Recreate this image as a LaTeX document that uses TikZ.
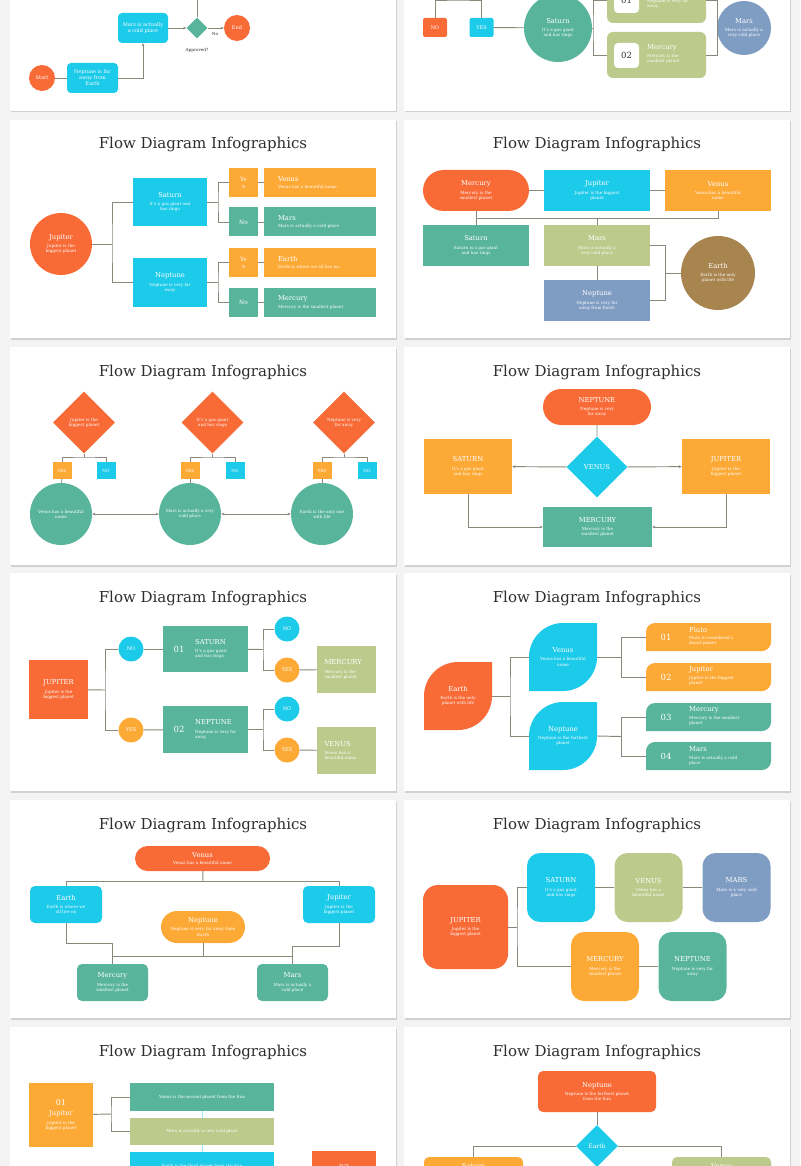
\documentclass[tikz,border=0pt]{standalone}
\usepackage{fontspec}
\setmainfont{DejaVu Serif}
\usetikzlibrary{arrows.meta,shapes.geometric,shapes.misc}
\definecolor{pOrange}{HTML}{F86B37}
\definecolor{pCyan}{HTML}{1CCAE9}
\definecolor{pTeal}{HTML}{58B59C}
\definecolor{pYellow}{HTML}{FDA936}
\definecolor{pOlive}{HTML}{BCCA8B}
\definecolor{pBlue}{HTML}{7F9DC3}
\definecolor{pBrown}{HTML}{A8844F}
\definecolor{pWire}{HTML}{8A887A}
\definecolor{pInk}{HTML}{2E2E2E}
\definecolor{pBack}{HTML}{F3F3F3}
\newcommand{\planet}[1]{{\fontsize{6.8}{8}\selectfont #1}}
\tikzset{
	every node/.style={inner sep=0pt, text=white, align=center, font=\fontsize{4.2}{5.1}\selectfont},
	wire/.style={draw=pWire, line width=0.95pt},
	arr/.style={wire, -{Stealth[length=3.2pt,width=2.8pt]}},
	arrs/.style={wire, {Stealth[length=3.2pt,width=2.8pt]}-{Stealth[length=3.2pt,width=2.8pt]}},
	box/.style={rectangle, fill=#1},
	rbox/.style={rectangle, rounded corners=4pt, fill=#1},
	pill/.style={rounded rectangle, fill=#1},
	disc/.style={circle, fill=#1},
	gem/.style={diamond, aspect=1, fill=#1},
	leaf/.style 2 args={rectangle, path picture={
		\path (path picture bounding box.north west) coordinate (lf-a)
			(path picture bounding box.south east) coordinate (lf-b);
		\fill[#1] (lf-a |- lf-b) -- ([yshift=-#2]lf-a) .. controls ([yshift=-0.45*#2]lf-a) and ([xshift=0.45*#2]lf-a) .. ([xshift=#2]lf-a)
			-- (lf-b |- lf-a) -- ([yshift=#2]lf-b) .. controls ([yshift=0.45*#2]lf-b) and ([xshift=-0.45*#2]lf-b) .. ([xshift=-#2]lf-b) -- cycle;
	}},
	heading/.style={text=pInk, font=\fontsize{15}{18}\selectfont},
	ink/.style={text=pInk},
	num/.style={font=\fontsize{8.5}{10}\selectfont},
	tag/.style={font=\fontsize{5}{6}\selectfont},
}
\begin{document}
\begin{tikzpicture}[x=1pt, y=-1pt]
	\useasboundingbox (0,0) rectangle (800,1166);
	\fill[pBack] (0,0) rectangle (800,1166);
	\foreach \x in {10,404}
		\foreach \y in {-107,120,347,573,800,1027} {
			\fill[black!18] (\x+1,\y+1.5) rectangle ++(386,218);
			\fill[white] (\x,\y) rectangle ++(386,218);
		}
	\foreach \x in {203,597}
		\foreach \y in {144,372,598,825,1052}
			\node[heading] (title-\x-\y) at (\x,\y) {Flow Diagram Infographics};

	\node[disc=pOrange, minimum size=26pt, tag] (a-start) at (42,78) {Start};
	\node[rbox=pCyan, minimum width=51pt, minimum height=30pt, tag] (a-nep) at (92.5,78) {Neptune is far\\away from\\Earth};
	\node[rbox=pCyan, minimum width=50pt, minimum height=30pt, tag] (a-mars) at (143,28) {Mars is actually\\a cold place};
	\node[gem=pTeal, minimum width=21pt, minimum height=21pt] (a-ok) at (197,28) {};
	\node[disc=pOrange, minimum size=26pt, tag] (a-end) at (237,28) {End};
	\node[ink] (a-no) at (215,34.5) {No};
	\node[ink] (a-ask) at (197,50) {Approved?};
	\coordinate (a-up) at (197,-4);
	\draw[wire] (a-start) -- (a-nep);
	\draw[arr] (a-nep.east) -| (a-mars.south);
	\draw[arr] (a-mars) -- (a-ok);
	\draw[arr] (a-ok) -- (a-end);
	\draw[wire] (a-ok) -- (a-up);

	\node[rbox=pOrange, rounded corners=2pt, minimum width=24pt, minimum height=19pt, tag] (b-no) at (435,27.5) {NO};
	\node[rbox=pCyan, rounded corners=2pt, minimum width=24pt, minimum height=19pt, tag] (b-yes) at (481.5,27.5) {YES};
	\coordinate (b-top) at (458,0);
	\node[disc=pTeal, minimum size=68pt] (b-sat) at (558,28) {\planet{Saturn}\\[3pt]It’s a gas giant\\and has rings};
	\node[rbox=pOlive, rounded corners=6pt, minimum width=99pt, minimum height=46pt] (b-one) at (656.5,0) {};
	\node[rbox=pOlive, rounded corners=6pt, minimum width=99pt, minimum height=46pt] (b-two) at (656.5,55) {};
	\node[rbox=white, minimum size=25pt, ink, num] (b-n1) at (626.5,0.5) {01};
	\node[rbox=white, minimum size=25pt, ink, num] (b-n2) at (626.5,55.5) {02};
	\node[anchor=west, align=left] (b-t1) at (647,-1) {\planet{Neptune}\\[3pt]Neptune is very far\\away};
	\node[anchor=west, align=left] (b-t2) at (647,54) {\planet{Mercury}\\[3pt]Mercury is the\\smallest planet};
	\node[disc=pBlue, minimum size=54pt] (b-mars) at (744,28) {\planet{Mars}\\[3pt]Mars is actually a\\very cold place};
	\coordinate (b-j1) at (593,28);
	\coordinate (b-j2) at (717,28);
	\draw[wire] (b-no.north) |- (b-top) -| (b-yes.north);
	\draw[wire] (b-yes) -- (b-sat);
	\draw[wire] (b-one.west) -| (b-j1) |- (b-two.west);
	\draw[wire] (b-sat) -- (b-j1);
	\draw[wire] (b-one.east) -| (b-j2) |- (b-two.east);
	\draw[wire] (b-j2) -- (b-mars);

	\node[disc=pOrange, minimum size=62pt] (c-jup) at (61,244) {\planet{Jupiter}\\[3pt]Jupiter is the\\biggest planet};
	\node[box=pCyan, minimum width=74pt, minimum height=48pt] (c-sat) at (170,202) {\planet{Saturn}\\[3pt]It’s a gas giant and\\has rings};
	\node[box=pCyan, minimum width=74pt, minimum height=49pt] (c-nep) at (170,282.5) {\planet{Neptune}\\[3pt]Neptune is very far\\away};
	\node[box=pYellow, minimum size=29pt, font=\fontsize{5.8}{7}\selectfont] (c-y1) at (243.5,182.5) {Ye\\s};
	\node[box=pTeal, minimum size=29pt, font=\fontsize{5.8}{7}\selectfont] (c-n1) at (243.5,222) {No};
	\node[box=pYellow, minimum size=29pt, font=\fontsize{5.8}{7}\selectfont] (c-y2) at (243.5,262.5) {Ye\\s};
	\node[box=pTeal, minimum size=29pt, font=\fontsize{5.8}{7}\selectfont] (c-n2) at (243.5,302.5) {No};
	\node[box=pYellow, minimum width=112pt, minimum height=29pt, text width=84pt, align=left] (c-venus) at (320,182.5) {\planet{Venus}\\[2pt]Venus has a beautiful name};
	\node[box=pTeal, minimum width=112pt, minimum height=29pt, text width=84pt, align=left] (c-mars) at (320,222) {\planet{Mars}\\[2pt]Mars is actually a cold place};
	\node[box=pYellow, minimum width=112pt, minimum height=29pt, text width=84pt, align=left] (c-earth) at (320,262.5) {\planet{Earth}\\[2pt]Earth is where we all live on};
	\node[box=pTeal, minimum width=112pt, minimum height=29pt, text width=84pt, align=left] (c-merc) at (320,302.5) {\planet{Mercury}\\[2pt]Mercury is the smallest planet};
	\coordinate (c-j1) at (112,244);
	\coordinate (c-j2) at (218,202);
	\coordinate (c-j3) at (218,282.5);
	\draw[wire] (c-sat.west) -| (c-j1) |- (c-nep.west);
	\draw[wire] (c-jup) -- (c-j1);
	\draw[wire] (c-y1.west) -| (c-j2) |- (c-n1.west);
	\draw[wire] (c-sat) -- (c-j2);
	\draw[wire] (c-y2.west) -| (c-j3) |- (c-n2.west);
	\draw[wire] (c-nep) -- (c-j3);
	\draw[wire] (c-y1) -- (c-venus);
	\draw[wire] (c-n1) -- (c-mars);
	\draw[wire] (c-y2) -- (c-earth);
	\draw[wire] (c-n2) -- (c-merc);

	\node[pill=pOrange, minimum width=106pt, minimum height=41pt] (d-merc) at (476,190.5) {\planet{Mercury}\\[3pt]Mercury is the\\smallest planet};
	\node[box=pCyan, minimum width=106pt, minimum height=41pt] (d-jup) at (597,190.5) {\planet{Jupiter}\\[3pt]Jupiter is the biggest\\planet};
	\node[box=pYellow, minimum width=106pt, minimum height=41pt] (d-ven) at (718,190.5) {\planet{Venus}\\[3pt]Venus has a beautiful\\name};
	\node[box=pTeal, minimum width=106pt, minimum height=41pt] (d-sat) at (476,245.5) {\planet{Saturn}\\[3pt]Saturn is a gas giant\\and has rings};
	\node[box=pOlive, minimum width=106pt, minimum height=41pt] (d-mars) at (597,245.5) {\planet{Mars}\\[3pt]Mars is actually a\\very cold place};
	\node[box=pBlue, minimum width=106pt, minimum height=41pt] (d-nep) at (597,300.5) {\planet{Neptune}\\[3pt]Neptune is very far\\away from Earth};
	\node[disc=pBrown, minimum size=74pt] (d-earth) at (718,273) {\planet{Earth}\\[3pt]Earth is the only\\planet with life};
	\coordinate (d-bus) at (597,218);
	\coordinate (d-j) at (665,273);
	\draw[wire] (d-merc) -- (d-jup);
	\draw[wire] (d-jup) -- (d-ven);
	\draw[wire] (d-merc.south) -- (d-sat.north);
	\draw[wire] (d-merc.south |- d-bus) -| (d-ven.south);
	\draw[wire] (d-bus) -- (d-mars.north);
	\draw[wire] (d-mars) -- (d-nep);
	\draw[wire] (d-mars.east) -| (d-j) |- (d-nep.east);
	\draw[wire] (d-j) -- (d-earth);

	\node[gem=pOrange, minimum width=62pt, minimum height=62pt] (e-d1) at (84,422.5) {Jupiter is the\\biggest planet};
	\node[gem=pOrange, minimum width=62pt, minimum height=62pt] (e-d2) at (212.5,422.5) {It’s a gas giant\\and has rings};
	\node[gem=pOrange, minimum width=62pt, minimum height=62pt] (e-d3) at (344,422.5) {Neptune is very\\far away};
	\node[box=pYellow, minimum width=19pt, minimum height=17pt] (e-y1) at (62,470.5) {YES};
	\node[box=pCyan, minimum width=19pt, minimum height=17pt] (e-n1) at (106,470.5) {NO};
	\node[box=pYellow, minimum width=19pt, minimum height=17pt] (e-y2) at (190,470.5) {YES};
	\node[box=pCyan, minimum width=19pt, minimum height=17pt] (e-n2) at (235,470.5) {NO};
	\node[box=pYellow, minimum width=19pt, minimum height=17pt] (e-y3) at (322,470.5) {YES};
	\node[box=pCyan, minimum width=19pt, minimum height=17pt] (e-n3) at (367,470.5) {NO};
	\node[disc=pTeal, minimum size=62pt] (e-c1) at (61,514) {Venus has a beautiful\\name};
	\node[disc=pTeal, minimum size=62pt] (e-c2) at (190,514) {Mars is actually a very\\cold place};
	\node[disc=pTeal, minimum size=62pt] (e-c3) at (322,514) {Earth is the only one\\with life};
	\coordinate (e-k1) at (84,457);
	\coordinate (e-k2) at (212.5,457);
	\coordinate (e-k3) at (344,457);
	\draw[wire] (e-d1.south) -- (e-k1);
	\draw[wire] (e-y1.north) |- (e-k1) -| (e-n1.north);
	\draw[wire] (e-d2.south) -- (e-k2);
	\draw[wire] (e-y2.north) |- (e-k2) -| (e-n2.north);
	\draw[wire] (e-d3.south) -- (e-k3);
	\draw[wire] (e-y3.north) |- (e-k3) -| (e-n3.north);
	\draw[wire] (e-y1) -- (e-c1);
	\draw[wire] (e-y2) -- (e-c2);
	\draw[wire] (e-y3) -- (e-c3);
	\draw[arrs] (e-c1) -- (e-c2);
	\draw[arrs] (e-c2) -- (e-c3);

	\node[pill=pOrange, minimum width=108pt, minimum height=36pt] (f-nep) at (597,407) {\planet{NEPTUNE}\\[3pt]Neptune is very\\far away};
	\node[gem=pCyan, minimum width=61pt, minimum height=61pt] (f-ven) at (597,467) {\planet{VENUS}};
	\node[box=pYellow, minimum width=88pt, minimum height=55pt] (f-sat) at (468,466.5) {\planet{SATURN}\\[3pt]It’s a gas giant\\and has rings};
	\node[box=pYellow, minimum width=88pt, minimum height=55pt] (f-jup) at (726,466.5) {\planet{JUPITER}\\[3pt]Jupiter is the\\biggest planet};
	\node[box=pTeal, minimum width=109pt, minimum height=40pt] (f-merc) at (597.5,527) {\planet{MERCURY}\\[3pt]Mercury is the\\smallest planet};
	\draw[wire] (f-nep) -- (f-ven);
	\draw[arr] (f-ven) -- (f-sat);
	\draw[arr] (f-ven) -- (f-jup);
	\draw[arr] (f-sat.south) |- (f-merc.west);
	\draw[arr] (f-jup.south) |- (f-merc.east);

	\node[box=pOrange, minimum size=59pt] (g-jup) at (58.5,689.5) {\planet{JUPITER}\\[3pt]Jupiter is the\\biggest planet};
	\node[disc=pCyan, minimum size=25pt, tag] (g-no) at (131,649) {NO};
	\node[disc=pYellow, minimum size=25pt, tag] (g-yes) at (131,730) {YES};
	\node[box=pTeal, minimum width=85pt, minimum height=46pt] (g-sat) at (205.5,649) {};
	\node[box=pTeal, minimum width=85pt, minimum height=47pt] (g-nep) at (205.5,729.5) {};
	\node[num] (g-sat-no) at (179,649) {01};
	\node[num] (g-nep-no) at (179,729.5) {02};
	\node[anchor=west, align=left] (g-sat-tx) at (195,649) {\planet{SATURN}\\[3pt]It’s a gas giant\\and has rings};
	\node[anchor=west, align=left] (g-nep-tx) at (195,729.5) {\planet{NEPTUNE}\\[3pt]Neptune is very far\\away};
	\node[disc=pCyan, minimum size=25pt, tag] (g-n1) at (287,629) {NO};
	\node[disc=pYellow, minimum size=25pt, tag] (g-y1) at (287,670) {YES};
	\node[disc=pCyan, minimum size=25pt, tag] (g-n2) at (287,709) {NO};
	\node[disc=pYellow, minimum size=25pt, tag] (g-y2) at (287,750) {YES};
	\node[box=pOlive, minimum width=59pt, minimum height=47pt, text width=44pt, align=left] (g-merc) at (346.5,669.5) {\planet{MERCURY}\\[3pt]Mercury is the\\smallest planet};
	\node[box=pOlive, minimum width=59pt, minimum height=47pt, text width=44pt, align=left] (g-ven) at (346.5,750.5) {\planet{VENUS}\\[3pt]Venus has a\\beautiful name};
	\coordinate (g-k1) at (105,690);
	\coordinate (g-k2) at (263,649.5);
	\coordinate (g-k3) at (263,729.5);
	\draw[wire] (g-no.west) -| (g-k1) |- (g-yes.west);
	\draw[wire] (g-jup) -- (g-k1);
	\draw[wire] (g-no) -- (g-sat);
	\draw[wire] (g-yes) -- (g-nep);
	\draw[wire] (g-n1.west) -| (g-k2) |- (g-y1.west);
	\draw[wire] (g-sat) -- (g-k2);
	\draw[wire] (g-n2.west) -| (g-k3) |- (g-y2.west);
	\draw[wire] (g-nep) -- (g-k3);
	\draw[wire] (g-y1) -- (g-merc);
	\draw[wire] (g-y2) -- (g-ven);

	\node[leaf={pOrange}{34pt}, minimum size=68pt] (h-earth) at (458,696) {\planet{Earth}\\[3pt]Earth is the only\\planet with life};
	\node[leaf={pCyan}{34pt}, minimum size=68pt] (h-ven) at (563,657) {\planet{Venus}\\[3pt]Venus has a beautiful\\name};
	\node[leaf={pCyan}{34pt}, minimum size=68pt] (h-nep) at (563,736) {\planet{Neptune}\\[3pt]Neptune is the farthest\\planet};
	\node[leaf={pYellow}{9pt}, minimum width=125pt, minimum height=28pt] (h-b1) at (708.5,637) {};
	\node[leaf={pYellow}{9pt}, minimum width=125pt, minimum height=28pt] (h-b2) at (708.5,677) {};
	\node[leaf={pTeal}{9pt}, minimum width=125pt, minimum height=28pt] (h-b3) at (708.5,717) {};
	\node[leaf={pTeal}{9pt}, minimum width=125pt, minimum height=28pt] (h-b4) at (708.5,756) {};
	\node[num] (h-b1-no) at (666,637) {01};
	\node[num] (h-b2-no) at (666,677) {02};
	\node[num] (h-b3-no) at (666,717) {03};
	\node[num] (h-b4-no) at (666,756) {04};
	\node[anchor=west, align=left] (h-b1-tx) at (689,636) {\planet{Pluto}\\[2pt]Pluto is considered a\\dwarf planet};
	\node[anchor=west, align=left] (h-b2-tx) at (689,676) {\planet{Jupiter}\\[2pt]Jupiter is the biggest\\planet};
	\node[anchor=west, align=left] (h-b3-tx) at (689,716) {\planet{Mercury}\\[2pt]Mercury is the smallest\\planet};
	\node[anchor=west, align=left] (h-b4-tx) at (689,756) {\planet{Mars}\\[2pt]Mars is actually a cold\\place};
	\coordinate (h-k1) at (510,696);
	\coordinate (h-k2) at (621,657);
	\coordinate (h-k3) at (621,736.5);
	\draw[wire] (h-ven.west) -| (h-k1) |- (h-nep.west);
	\draw[wire] (h-earth.east) -- (h-k1);
	\draw[wire] (h-b1.west) -| (h-k2) |- (h-b2.west);
	\draw[wire] (h-ven.east) -- (h-k2);
	\draw[wire] (h-b3.west) -| (h-k3) |- (h-b4.west);
	\draw[wire] (h-nep.east) -- (h-k3);

	\node[pill=pOrange, minimum width=135pt, minimum height=25pt] (i-ven) at (202.5,858.5) {\planet{Venus}\\[2pt]Venus has a beautiful name};
	\node[rbox=pCyan, rounded corners=5pt, minimum width=72pt, minimum height=37pt] (i-earth) at (66,904.5) {\planet{Earth}\\[3pt]Earth is where we\\all live on};
	\node[rbox=pCyan, rounded corners=5pt, minimum width=72pt, minimum height=37pt] (i-jup) at (339,904.5) {\planet{Jupiter}\\[3pt]Jupiter is the\\biggest planet};
	\node[pill=pYellow, minimum width=84pt, minimum height=32pt] (i-nep) at (203,927) {\planet{Neptune}\\[3pt]Neptune is very far away from\\Earth};
	\node[rbox=pTeal, rounded corners=5pt, minimum width=71pt, minimum height=37pt] (i-merc) at (112.5,982.5) {\planet{Mercury}\\[3pt]Mercury is the\\smallest planet};
	\node[rbox=pTeal, rounded corners=5pt, minimum width=71pt, minimum height=37pt] (i-mars) at (292.5,982.5) {\planet{Mars}\\[3pt]Mars is actually a\\cold place};
	\coordinate (i-bus) at (203,881);
	\coordinate (i-eb) at (90,943);
	\coordinate (i-jb) at (315,946);
	\coordinate (i-nb) at (203,956);
	\draw[wire] (i-ven) -- (i-bus);
	\draw[wire] (i-earth.north) |- (i-bus) -| (i-jup.north);
	\draw[wire] (i-earth.south) |- (i-eb) -| (i-merc.north);
	\draw[wire] (i-jup.south) |- (i-jb) -| (i-mars.north);
	\draw[wire] (i-nep) -- (i-nb);
	\draw[wire] (i-merc.north |- i-nb) -- (i-mars.north |- i-nb);

	\node[rbox=pOrange, rounded corners=15pt, minimum width=85pt, minimum height=84pt] (j-jup) at (465.5,927) {\planet{JUPITER}\\[3pt]Jupiter is the\\biggest planet};
	\node[rbox=pCyan, rounded corners=13pt, minimum width=68pt, minimum height=69pt] (j-sat) at (561,887.5) {\planet{SATURN}\\[3pt]It’s a gas giant\\and has rings};
	\node[rbox=pOlive, rounded corners=13pt, minimum width=68pt, minimum height=69pt] (j-ven) at (648.5,887.5) {\planet{VENUS}\\[3pt]Venus has a\\beautiful name};
	\node[rbox=pBlue, rounded corners=13pt, minimum width=68pt, minimum height=69pt] (j-mars) at (736.5,887.5) {\planet{MARS}\\[3pt]Mars is a very cold\\place};
	\node[rbox=pYellow, rounded corners=13pt, minimum width=68pt, minimum height=69pt] (j-merc) at (605,966.5) {\planet{MERCURY}\\[3pt]Mercury is the\\smallest planet};
	\node[rbox=pTeal, rounded corners=13pt, minimum width=68pt, minimum height=69pt] (j-nep) at (692.5,966.5) {\planet{NEPTUNE}\\[3pt]Neptune is very far\\away};
	\coordinate (j-k) at (517,927);
	\draw[wire] (j-sat.west) -| (j-k) |- (j-merc.west);
	\draw[wire] (j-jup) -- (j-k);
	\draw[wire] (j-sat) -- (j-ven);
	\draw[wire] (j-ven) -- (j-mars);
	\draw[wire] (j-merc) -- (j-nep);

	\node[box=pYellow, minimum size=64pt] (k-jup) at (61,1115) {{\fontsize{8}{9}\selectfont 01}\\[4pt]\planet{Jupiter}\\[3pt]Jupiter is the\\biggest planet};
	\node[box=pTeal, minimum width=144pt, minimum height=28pt] (k-b1) at (202,1097) {Venus is the second planet from the Sun};
	\node[box=pOlive, minimum width=144pt, minimum height=27pt] (k-b2) at (202,1131.5) {Mars is actually a very cold place};
	\node[box=pCyan, minimum width=144pt, minimum height=28pt] (k-b3) at (202,1166) {Earth is the third planet from the Sun};
	\node[box=pOrange, minimum size=64pt] (k-b4) at (344,1183) {};
	\node[font=\fontsize{8}{9}\selectfont] (k-b4-no) at (344,1168) {02};
	\coordinate (k-k) at (111,1114);
	\coordinate (k-k2) at (293,1175);
	\draw[wire] (k-b1.west) -| (k-k) |- (k-b2.west);
	\draw[wire] (k-jup) -- (k-k);
	\draw[draw=pCyan!45, line width=0.8pt] (k-b1) -- (k-b2);
	\draw[draw=pCyan!45, line width=0.8pt] (k-b2) -- (k-b3);
	\draw[wire] (k-b3.east) -| (k-k2) |- (k-b4.west);

	\node[rbox=pOrange, rounded corners=5pt, minimum width=118pt, minimum height=41pt] (l-nep) at (597,1091.5) {\planet{Neptune}\\[3pt]Neptune is the farthest planet\\from the Sun};
	\node[gem=pCyan, minimum width=42pt, minimum height=42pt, font=\fontsize{6}{7}\selectfont] (l-earth) at (597,1146) {Earth};
	\node[rbox=pYellow, rounded corners=5pt, minimum width=99pt, minimum height=40pt] (l-sat) at (473.5,1177) {};
	\node[rbox=pOlive, rounded corners=5pt, minimum width=99pt, minimum height=40pt] (l-ven) at (721.5,1177) {};
	\node (l-sat-tx) at (473.5,1166) {\planet{Saturn}};
	\node (l-ven-tx) at (721.5,1166) {\planet{Venus}};
	\draw[wire] (l-nep) -- (l-earth);
	\draw[wire] (l-sat.north) |- (l-earth.west);
	\draw[wire] (l-ven.north) |- (l-earth.east);
\end{tikzpicture}
\end{document}
